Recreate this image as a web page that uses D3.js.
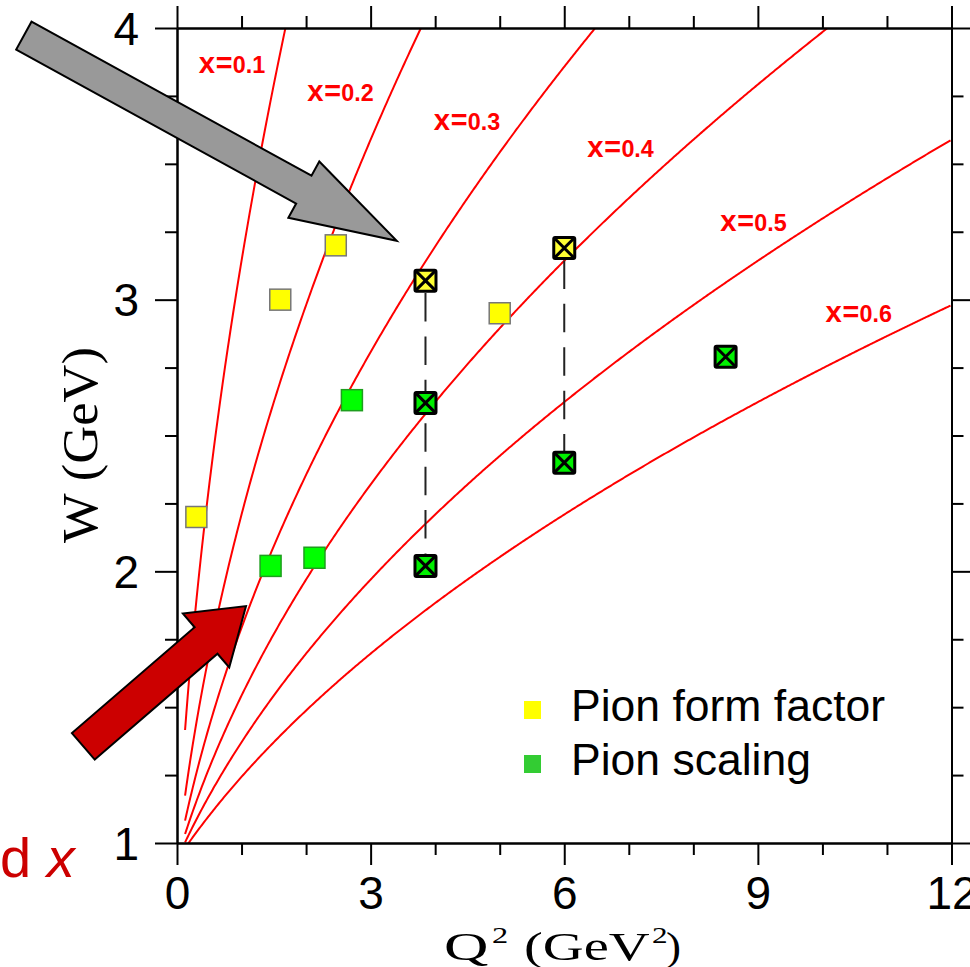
<!DOCTYPE html>
<html>
<head>
<meta charset="utf-8">
<script src="https://cdn.jsdelivr.net/npm/d3@7"></script>
<style>
  html, body { margin: 0; padding: 0; background: #fff; }
  svg { display: block; }
</style>
</head>
<body>
<script>
// Lines of constant Bjorken x in the (Q², W) plane
const xBjorken = [0.1, 0.2, 0.3, 0.4, 0.5, 0.6];
const xLineLabels = ["0.1", "0.2", "0.3", "0.4", "0.5", "0.6"];
const xLabelQ2 = [0.33, 2.01, 3.97, 6.35, 8.41, 10.04];
const xLabelW  = [3.834, 3.731, 3.624, 3.525, 3.253, 2.918];

// Pion form factor settings
const formFactorQ2 = [0.30, 1.60, 2.46, 5.00];
const formFactorW  = [2.20, 3.00, 3.20, 2.95];
const formFactorNewQ2 = [3.85, 6.00];
const formFactorNewW  = [3.07, 3.19];

// Pion scaling settings
const scalingQ2 = [1.45, 2.13, 2.71];
const scalingW  = [2.02, 2.05, 2.63];
const scalingNewQ2 = [3.85, 3.85, 6.00, 8.50];
const scalingNewW  = [2.62, 2.02, 2.40, 2.79];

// Vertical scans linking settings at equal Q²
const scanQ2   = [3.85, 6.00];
const scanWTop = [3.07, 3.19];
const scanWBot = [2.02, 2.40];

// Axis ticks
const xTicksMajor = [0, 3, 6, 9, 12];
const xTicksMinor = [1, 2, 4, 5, 7, 8, 10, 11];
const yTicksMajor = [1, 2, 3, 4];
const yTicksMinor = [1.25, 1.5, 1.75, 2.25, 2.5, 2.75, 3.25, 3.5, 3.75];

const legendLabels = ["Pion form factor", "Pion scaling"];
const legendColors = ["#ffff00", "#33cc33"];

// Annotation arrows: tail and tip in (Q², W)
const arrowTailQ2 = [-2.373, -1.451];
const arrowTailW  = [3.972, 1.356];
const arrowTipQ2  = [3.404, 1.069];
const arrowTipW   = [3.217, 1.872];

const PROTON_MASS = 0.938;
const Q2_START = 0.125;

const width = 970, height = 967;
const x = d3.scaleLinear().domain([0, 12]).range([177, 951.5]);
const y = d3.scaleLinear().domain([1, 4]).range([843, 28]);

const svg = d3.select("body").append("svg")
  .attr("width", width).attr("height", height)
  .attr("viewBox", `0 0 ${width} ${height}`);

svg.append("defs").append("clipPath").attr("id", "plot-clip")
  .append("rect")
  .attr("x", x(0)).attr("y", y(4))
  .attr("width", x(12) - x(0)).attr("height", y(1) - y(4));

// W as a function of Q² at fixed x
const wAt = (q2, xb) => Math.sqrt(PROTON_MASS * PROTON_MASS + q2 * (1 - xb) / xb);

const q2Samples = d3.range(Q2_START, 12.0001, 0.02);
const line = d3.line().x(d => x(d[0])).y(d => y(d[1]));

const curves = svg.append("g").attr("clip-path", "url(#plot-clip)");
xBjorken.forEach(xb => {
  curves.append("path")
    .attr("d", line(q2Samples.map(q => [q, wAt(q, xb)])))
    .attr("fill", "none")
    .attr("stroke", "#ff0000")
    .attr("stroke-width", 2);
});

// x labels
xBjorken.forEach((xb, i) => {
  const t = svg.append("text")
    .attr("x", x(xLabelQ2[i])).attr("y", y(xLabelW[i]))
    .attr("fill", "#ff0000")
    .attr("font-weight", "bold")
    .attr("textLength", 67)
    .attr("lengthAdjust", "spacingAndGlyphs");
  t.append("tspan").attr("font-family", "Liberation Mono").attr("font-size", 29).text("x=");
  t.append("tspan").attr("font-family", "Liberation Sans").attr("font-size", 23.5).text(xLineLabels[i]);
});

// Axes
function styleAxis(g) {
  g.selectAll("path.domain").attr("stroke", "#000").attr("stroke-width", 2);
  g.selectAll(".tick line").attr("stroke", "#000").attr("stroke-width", 2);
}
const axisFont = "Liberation Sans, Arial, sans-serif";

// bottom
const gBottomMinor = svg.append("g").attr("transform", `translate(0,${y(1)})`)
  .call(d3.axisBottom(x).tickValues(xTicksMinor).tickSize(12).tickSizeOuter(0).tickFormat(""));
const gBottom = svg.append("g").attr("transform", `translate(0,${y(1)})`)
  .call(d3.axisBottom(x).tickValues(xTicksMajor).tickSize(22).tickSizeOuter(0).tickFormat(d3.format("d")));
gBottom.selectAll(".tick text")
  .attr("font-family", axisFont).attr("font-size", 46).attr("fill", "#000")
  .attr("y", 66).attr("dy", 0);
// top
const gTopMinor = svg.append("g").attr("transform", `translate(0,${y(4)})`)
  .call(d3.axisTop(x).tickValues(xTicksMinor).tickSize(12).tickSizeOuter(0).tickFormat(""));
const gTop = svg.append("g").attr("transform", `translate(0,${y(4)})`)
  .call(d3.axisTop(x).tickValues(xTicksMajor).tickSize(22).tickSizeOuter(0).tickFormat(""));
// left
const gLeftMinor = svg.append("g").attr("transform", `translate(${x(0)},0)`)
  .call(d3.axisLeft(y).tickValues(yTicksMinor).tickSize(12).tickSizeOuter(0).tickFormat(""));
const gLeft = svg.append("g").attr("transform", `translate(${x(0)},0)`)
  .call(d3.axisLeft(y).tickValues(yTicksMajor).tickSize(22).tickSizeOuter(0).tickFormat(d3.format("d")));
gLeft.selectAll(".tick text")
  .attr("font-family", axisFont).attr("font-size", 46).attr("fill", "#000")
  .attr("x", -38).attr("dy", 16);
// right
const gRightMinor = svg.append("g").attr("transform", `translate(${x(12)},0)`)
  .call(d3.axisRight(y).tickValues(yTicksMinor).tickSize(12).tickSizeOuter(0).tickFormat(""));
const gRight = svg.append("g").attr("transform", `translate(${x(12)},0)`)
  .call(d3.axisRight(y).tickValues(yTicksMajor).tickSize(22).tickSizeOuter(0).tickFormat(""));

[gBottomMinor, gBottom, gTopMinor, gTop, gLeftMinor, gLeft, gRightMinor, gRight].forEach(styleAxis);

// Axis titles (wide serif face for Q², narrower for W)
const titleFont = "Liberation Serif, Times New Roman, serif";
const xTitle = svg.append("g").attr("font-family", titleFont).attr("fill", "#000");
function stretchedText(g, str, tx, ty, size, sx) {
  g.append("text")
    .attr("transform", `translate(${tx},${ty}) scale(${sx},1)`)
    .attr("font-size", size).text(str);
}
stretchedText(xTitle, "Q", 444, 960, 41, 1.5);
stretchedText(xTitle, "2", 492, 943, 24, 1.35);
stretchedText(xTitle, "(GeV", 524, 960, 41, 1.38);
stretchedText(xTitle, "2", 652, 943, 24, 1.3);
stretchedText(xTitle, ")", 666, 960, 41, 1.1);

svg.append("text")
  .attr("transform", "translate(97,445) rotate(-90)")
  .attr("text-anchor", "middle")
  .attr("font-family", titleFont).attr("font-size", 50)
  .attr("textLength", 196).attr("lengthAdjust", "spacingAndGlyphs")
  .text("W  (GeV)");

// Vertical scan lines
scanQ2.forEach((q, i) => {
  svg.append("line")
    .attr("x1", x(q)).attr("x2", x(q))
    .attr("y1", y(scanWTop[i])).attr("y2", y(scanWBot[i]))
    .attr("stroke", "#222").attr("stroke-width", 2)
    .attr("stroke-dasharray", "28.5 14.9")
    .attr("stroke-dashoffset", 31);
});

// Markers
function plainMarkers(q2s, ws, fill, stroke) {
  svg.append("g").selectAll("rect").data(q2s).join("rect")
    .attr("x", (d) => x(d) - 10.5)
    .attr("y", (d, i) => y(ws[i]) - 10.5)
    .attr("width", 21).attr("height", 21)
    .attr("fill", fill).attr("stroke", stroke).attr("stroke-width", 1.5);
}
function crossedMarkers(q2s, ws, fill) {
  const g = svg.append("g").selectAll("g").data(q2s).join("g")
    .attr("transform", (d, i) => `translate(${x(d)},${y(ws[i])})`);
  const h = 10.5;
  g.append("rect").attr("x", -h).attr("y", -h).attr("width", 2 * h).attr("height", 2 * h)
    .attr("rx", 1.5)
    .attr("fill", fill).attr("stroke", "#000").attr("stroke-width", 3);
  g.append("path").attr("d", `M${-h},${-h}L${h},${h}M${h},${-h}L${-h},${h}`)
    .attr("stroke", "#000").attr("stroke-width", 3);
}
plainMarkers(formFactorQ2, formFactorW, "#ffff00", "#777");
plainMarkers(scalingQ2, scalingW, "#00ff00", "#1e9e1e");
crossedMarkers(formFactorNewQ2, formFactorNewW, "#ffff33");
crossedMarkers(scalingNewQ2, scalingNewW, "#00f000");

// Legend
legendLabels.forEach((lab, i) => {
  const ly = 721 + i * 54;
  svg.append("rect").attr("x", 524).attr("y", ly - 20).attr("width", 17).attr("height", 18)
    .attr("fill", legendColors[i]);
  svg.append("text").attr("x", 571).attr("y", ly)
    .attr("font-family", axisFont).attr("font-size", 44.5).attr("fill", "#000")
    .text(lab);
});

// Block arrows
function blockArrow(i, halfShaft, halfHead, headLen, fill) {
  const tx = x(arrowTailQ2[i]), ty = y(arrowTailW[i]);
  const px = x(arrowTipQ2[i]), py = y(arrowTipW[i]);
  const len = Math.hypot(px - tx, py - ty);
  const ux = (px - tx) / len, uy = (py - ty) / len;
  const nx = -uy, ny = ux;
  const bx = px - ux * headLen, by = py - uy * headLen;
  const pts = [
    [tx + nx * halfShaft, ty + ny * halfShaft],
    [bx + nx * halfShaft, by + ny * halfShaft],
    [bx + nx * halfHead, by + ny * halfHead],
    [px, py],
    [bx - nx * halfHead, by - ny * halfHead],
    [bx - nx * halfShaft, by - ny * halfShaft],
    [tx - nx * halfShaft, ty - ny * halfShaft]
  ];
  svg.append("polygon")
    .attr("points", pts.map(p => p.join(",")).join(" "))
    .attr("fill", fill).attr("stroke", "#000").attr("stroke-width", 2)
    .attr("stroke-linejoin", "miter");
}
blockArrow(0, 15.9, 32.1, 106, "#999999");
blockArrow(1, 17.5, 35.5, 52.7, "#cc0000");

// Cut-off side caption
const cap = svg.append("text").attr("x", 0).attr("y", 877)
  .attr("font-family", axisFont).attr("font-size", 56).attr("fill", "#cc0000");
cap.append("tspan").text("d ");
cap.append("tspan").attr("font-style", "italic").text("x");
</script>
</body>
</html>
